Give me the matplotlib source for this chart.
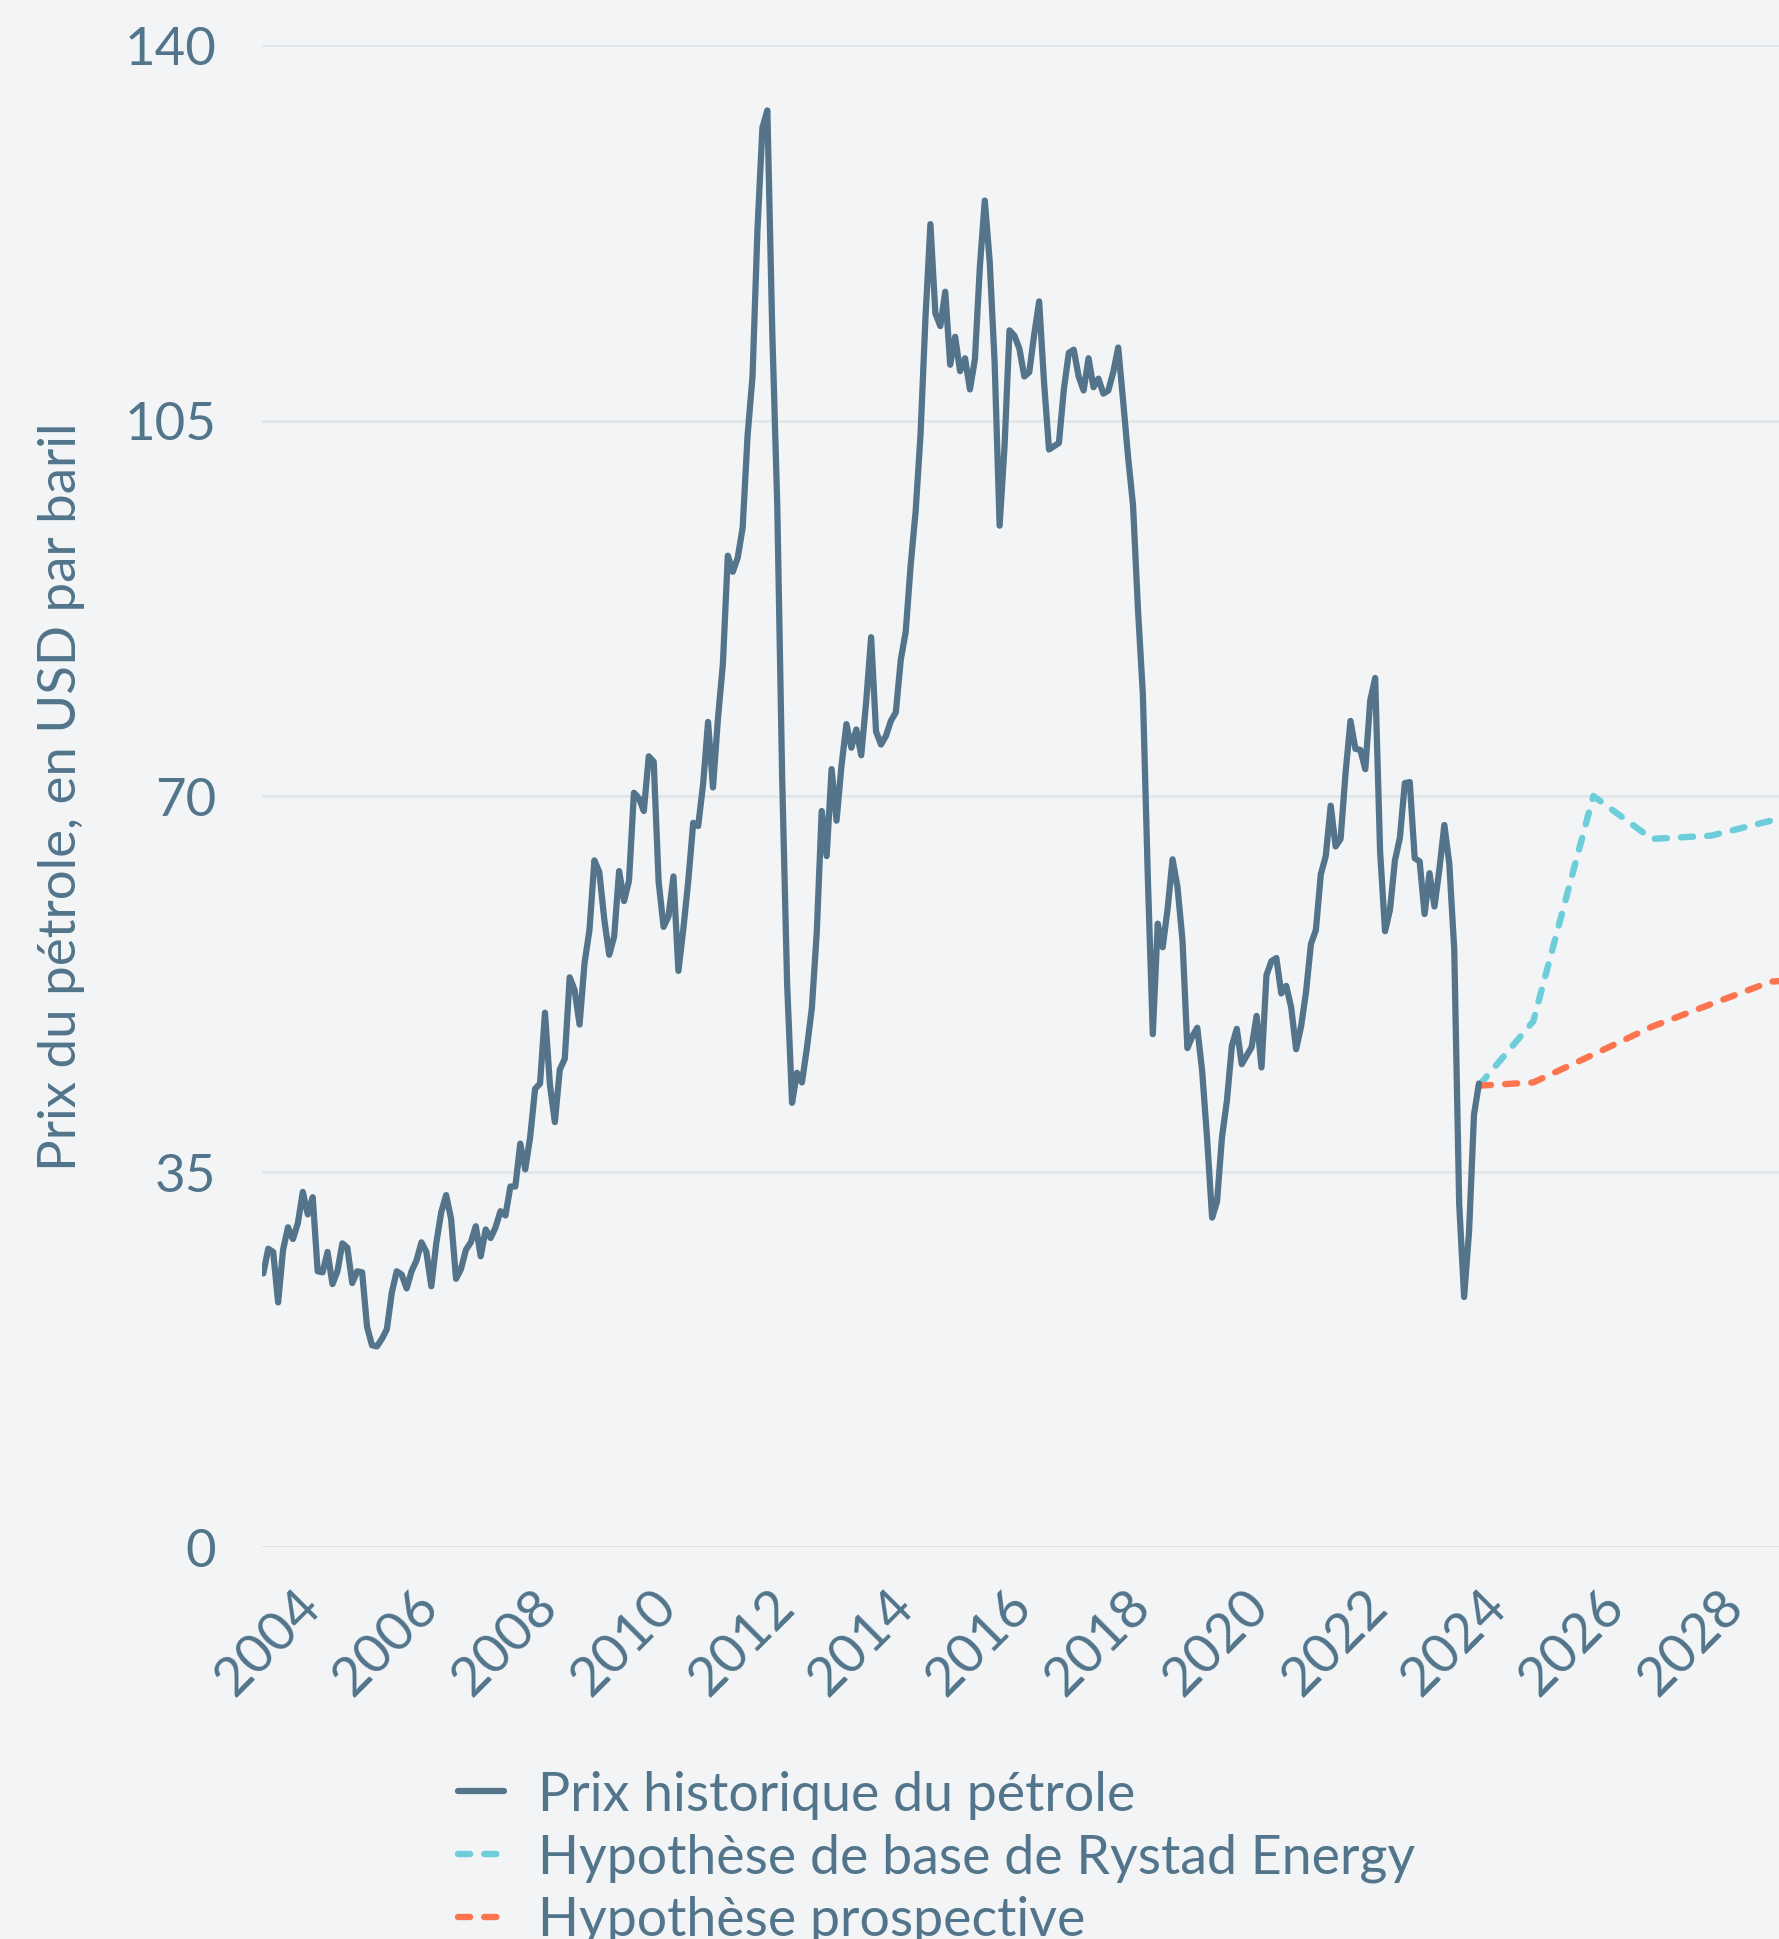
import numpy as np
import matplotlib
matplotlib.use("Agg")
import matplotlib.pyplot as plt

# monthly Brent prices (USD/bbl), first point at the left edge of the chart
hist_start = 2003.179
hist_price = [
    25.5, 27.8, 27.5, 22.8, 27.7, 29.8, 28.7, 30.2, 33.1, 31.0, 32.6, 25.7,   # 2000
    25.6, 27.5, 24.5, 25.7, 28.3, 27.9, 24.6, 25.7, 25.6, 20.5, 18.8, 18.7,   # 2001
    19.4, 20.3, 23.7, 25.7, 25.4, 24.1, 25.7, 26.7, 28.4, 27.5, 24.3, 28.3,   # 2002
    31.2, 32.8, 30.6, 25.0, 25.9, 27.7, 28.4, 29.9, 27.1, 29.6, 28.8, 29.8,   # 2003
    31.3, 30.9, 33.6, 33.6, 37.6, 35.2, 38.2, 42.7, 43.2, 49.8, 43.1, 39.6,   # 2004
    44.5, 45.5, 53.1, 51.9, 48.7, 54.4, 57.5, 64.0, 62.9, 58.5, 55.2, 56.9,   # 2005
    63.0, 60.2, 62.1, 70.3, 69.8, 68.6, 73.7, 73.2, 62.0, 57.8, 58.8, 62.5,   # 2006
    53.7, 57.6, 62.1, 67.5, 67.2, 71.1, 76.9, 70.8, 77.2, 82.3, 92.4, 90.9,   # 2007
    92.2, 95.0, 103.6, 109.1, 122.8, 132.3, 133.9, 113.2, 97.2, 71.6, 52.5, 41.4,  # 2008
    44.2, 43.3, 46.5, 50.2, 57.3, 68.6, 64.4, 72.5, 67.7, 72.8, 76.7, 74.5,   # 2009
    76.2, 73.8, 78.8, 84.8, 76.0, 74.8, 75.6, 77.0, 77.8, 82.7, 85.3, 91.5,   # 2010
    96.5, 103.7, 114.6, 123.3, 115.0, 113.8, 117.0, 110.2, 112.8, 109.6, 110.8, 107.9,  # 2011
    110.7, 119.3, 125.5, 119.8, 110.3, 95.2, 102.6, 113.4, 112.9, 111.7, 109.1, 109.5,  # 2012
    113.0, 116.1, 108.5, 102.3, 102.6, 102.9, 107.9, 111.3, 111.6, 109.1, 107.8, 110.8,  # 2013
    108.1, 108.9, 107.5, 107.8, 109.5, 111.8, 106.8, 101.6, 97.1, 87.4, 79.4, 62.3,  # 2014
    47.8, 58.1, 55.9, 59.5, 64.1, 61.5, 56.6, 46.5, 47.6, 48.4, 44.3, 38.0,   # 2015
    30.7, 32.2, 38.2, 41.6, 46.7, 48.3, 45.0, 45.8, 46.6, 49.5, 44.7, 53.3,   # 2016
    54.6, 54.9, 51.6, 52.3, 50.3, 46.4, 48.5, 51.7, 56.2, 57.5, 62.7, 64.4,   # 2017
    69.1, 65.3, 66.0, 72.1, 77.0, 74.4, 74.3, 72.5, 78.9, 81.0, 64.8, 57.4,   # 2018
    59.4, 64.0, 66.1, 71.2, 71.3, 64.2, 63.9, 59.0, 62.8, 59.7, 63.2, 67.3,   # 2019
    63.7, 55.7, 32.0, 23.3, 29.4, 40.3, 43.2,                                 # 2020
]

# scenarios (yearly points, starting from the last observed price)
fc_x = [2023.679, 2024.595, 2025.607, 2026.597, 2027.592, 2028.604, 2029.599]
base_case = [43.0, 49.0, 70.0, 66.0, 66.3, 67.7, 69.5]
prospective = [43.0, 43.3, 45.9, 48.5, 50.6, 52.7, 53.0]

labels = ["Prix historique du pétrole",
          "Hypothèse de base de Rystad Energy",
          "Hypothèse prospective"]
years = list(range(2004, 2030, 2))
yticks = [0, 35, 70, 105, 140]

bg = "#f2f4f6"
txt = "#52758b"
c_hist = "#53748a"
c_base = "#6dcdd9"
c_pro = "#fd754f"

plt.rcParams["font.family"] = ["Lato", "DejaVu Sans"]

fig = plt.figure(figsize=(17.79, 19.40), dpi=100, facecolor=bg)
ax = fig.add_axes([262 / 1779, 1 - 1548 / 1940, 1 - 262 / 1779, (1548 - 46) / 1940])
ax.set_facecolor(bg)

hx = hist_start + np.arange(len(hist_price)) / 12.0
ax.plot(hx, hist_price, color=c_hist, lw=4.5, solid_joinstyle="round",
        solid_capstyle="round", label=labels[0], zorder=3)
ax.plot(fc_x, base_case, color=c_base, lw=4.6, dashes=(1.9, 2.2),
        dash_capstyle="round", label=labels[1], zorder=2)
ax.plot(fc_x, prospective, color=c_pro, lw=4.6, dashes=(1.9, 2.2),
        dash_capstyle="round", label=labels[2], zorder=2)

ax.set_xlim(2003.157, 2028.739)
ax.set_ylim(0, 140)

for y in yticks:
    ax.axhline(y, color="#d9dcdc" if y == 0 else "#e2e5e7", lw=1.8, zorder=1)

for s in ax.spines.values():
    s.set_visible(False)

ax.set_yticks(yticks)
ax.set_yticklabels([str(v) for v in yticks])
ax.set_xticks(years)
ax.set_xticklabels([str(v) for v in years], rotation=45, ha="right",
                   va="center", rotation_mode="anchor")
ax.tick_params(axis="y", length=0, pad=33, labelsize=38, labelcolor=txt)
ax.tick_params(axis="x", length=0, pad=36, labelsize=39, labelcolor=txt)

ax.set_ylabel("Prix du pétrole, en USD par baril", fontsize=38, color=txt)
ax.yaxis.set_label_coords(-0.1165, 0.5)

leg = ax.legend(loc="upper left", bbox_to_anchor=(458 / 1779, 1 - 1771 / 1940),
                bbox_transform=fig.transFigure, frameon=False, fontsize=38.7,
                handlelength=0.85, handletextpad=0.64, labelspacing=0.25,
                borderpad=0, borderaxespad=0)
for t in leg.get_texts():
    t.set_color(txt)

fig.savefig("out.png", dpi=100, facecolor=bg)
